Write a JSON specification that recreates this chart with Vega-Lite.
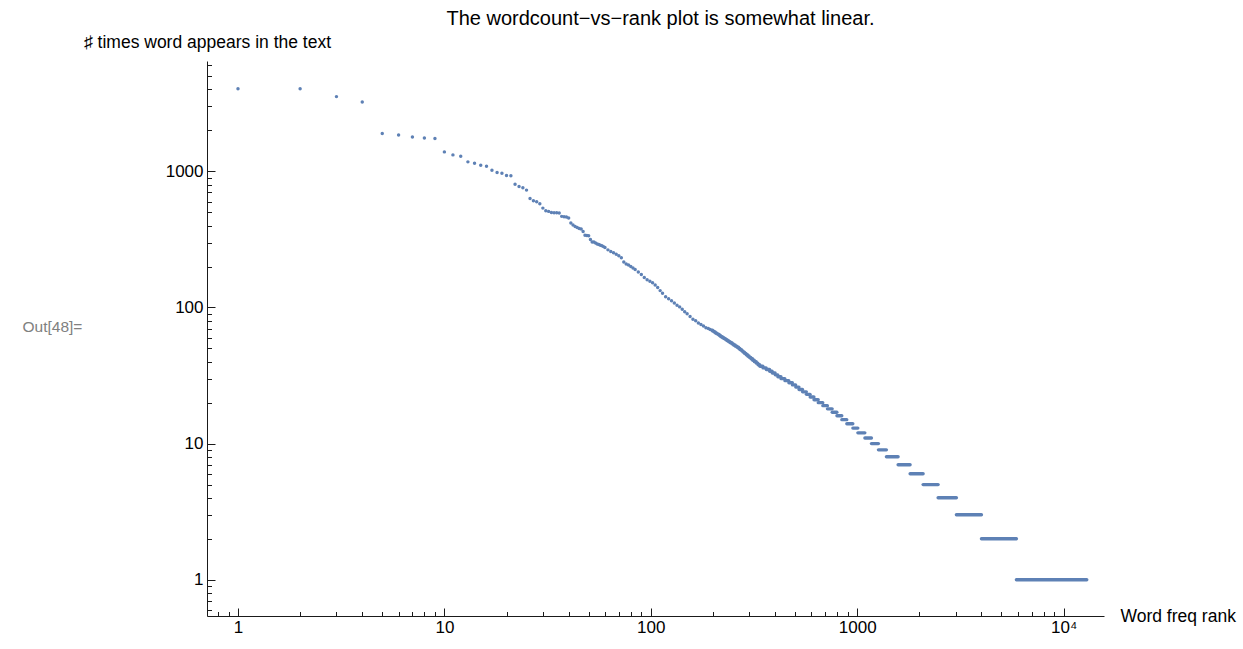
{
  "$schema": "https://vega.github.io/schema/vega-lite/v6.json",
  "width": 897,
  "height": 555,
  "autosize": "none",
  "padding": {"left": 207, "top": 61, "right": 139, "bottom": 33},
  "background": "white",
  "config": {"view": {"stroke": null}, "font": "Liberation Sans", "axis": {"grid": false}},
  "title": {"text": "The wordcount−vs−rank plot is somewhat linear.", "fontSize": 20, "font": "Liberation Sans", "fontWeight": "normal", "color": "#000000", "anchor": "middle", "dx": 5},
  "datasets": {
    "points": [
      {"rank": 1, "count": 4050}, {"rank": 2, "count": 4040}, {"rank": 3, "count": 3540}, {"rank": 4, "count": 3230},
      {"rank": 5, "count": 1895}, {"rank": 6, "count": 1850}, {"rank": 7, "count": 1790}, {"rank": 8, "count": 1760},
      {"rank": 9, "count": 1740}, {"rank": 10, "count": 1390}, {"rank": 11, "count": 1321}, {"rank": 12, "count": 1292},
      {"rank": 13, "count": 1174}, {"rank": 14, "count": 1148}, {"rank": 15, "count": 1110}, {"rank": 16, "count": 1091},
      {"rank": 17, "count": 1020}, {"rank": 18, "count": 980}, {"rank": 19, "count": 970}, {"rank": 20, "count": 931},
      {"rank": 21, "count": 927}, {"rank": 22, "count": 805}, {"rank": 23, "count": 774}, {"rank": 24, "count": 757},
      {"rank": 25, "count": 728}, {"rank": 26, "count": 632}, {"rank": 27, "count": 608}, {"rank": 28, "count": 598},
      {"rank": 29, "count": 578}, {"rank": 30, "count": 537}, {"rank": 31, "count": 513}, {"rank": 32, "count": 508},
      {"rank": 33, "count": 499}, {"rank": 34, "count": 496}, {"rank": 35, "count": 496}, {"rank": 36, "count": 494},
      {"rank": 37, "count": 467}, {"rank": 38, "count": 464}, {"rank": 39, "count": 462}, {"rank": 40, "count": 454},
      {"rank": 41, "count": 417}, {"rank": 42, "count": 403}, {"rank": 43, "count": 394}, {"rank": 44, "count": 387},
      {"rank": 45, "count": 381}, {"rank": 46, "count": 377}, {"rank": 47, "count": 362}, {"rank": 48, "count": 339},
      {"rank": 49, "count": 338}, {"rank": 50, "count": 336}, {"rank": 51, "count": 316}, {"rank": 52, "count": 303},
      {"rank": 53, "count": 303}, {"rank": 54, "count": 298}, {"rank": 55, "count": 293}, {"rank": 56, "count": 290},
      {"rank": 57, "count": 287}, {"rank": 58, "count": 284}, {"rank": 59, "count": 280}, {"rank": 60, "count": 276},
      {"rank": 62, "count": 265}, {"rank": 64, "count": 258}, {"rank": 66, "count": 252}, {"rank": 68, "count": 246},
      {"rank": 70, "count": 240}, {"rank": 72, "count": 232}, {"rank": 74, "count": 216}, {"rank": 76, "count": 209},
      {"rank": 78, "count": 205}, {"rank": 80, "count": 200}, {"rank": 82, "count": 195}, {"rank": 84, "count": 190},
      {"rank": 87, "count": 182}, {"rank": 90, "count": 175}, {"rank": 93, "count": 166}, {"rank": 96, "count": 160},
      {"rank": 99, "count": 156}, {"rank": 102, "count": 152}, {"rank": 105, "count": 146}, {"rank": 108, "count": 140},
      {"rank": 111, "count": 133}, {"rank": 114, "count": 127}, {"rank": 118, "count": 120}, {"rank": 122, "count": 116},
      {"rank": 126, "count": 112}, {"rank": 130, "count": 108}, {"rank": 134, "count": 104}, {"rank": 138, "count": 101},
      {"rank": 142, "count": 97}, {"rank": 146, "count": 93}, {"rank": 150, "count": 90}, {"rank": 155, "count": 86},
      {"rank": 160, "count": 82}, {"rank": 165, "count": 80}, {"rank": 170, "count": 77}, {"rank": 175, "count": 75},
      {"rank": 180, "count": 73}, {"rank": 185, "count": 71}, {"rank": 190, "count": 70}, {"rank": 194, "count": 69}
    ],
    "levels": [
      {"count": 1, "from": 5907, "to": 12950}, {"count": 2, "from": 4000, "to": 5906}, {"count": 3, "from": 3025, "to": 3999},
      {"count": 4, "from": 2467, "to": 3024}, {"count": 5, "from": 2087, "to": 2466}, {"count": 6, "from": 1805, "to": 2086},
      {"count": 7, "from": 1579, "to": 1804}, {"count": 8, "from": 1386, "to": 1578}, {"count": 9, "from": 1268, "to": 1385},
      {"count": 10, "from": 1173, "to": 1267}, {"count": 11, "from": 1090, "to": 1172}, {"count": 12, "from": 1008, "to": 1089},
      {"count": 13, "from": 953, "to": 1007}, {"count": 14, "from": 891, "to": 952}, {"count": 15, "from": 843, "to": 890},
      {"count": 16, "from": 798, "to": 842}, {"count": 17, "from": 757, "to": 797}, {"count": 18, "from": 718, "to": 756},
      {"count": 19, "from": 682, "to": 717}, {"count": 20, "from": 648, "to": 681}, {"count": 21, "from": 618, "to": 647},
      {"count": 22, "from": 592, "to": 617}, {"count": 23, "from": 568, "to": 591}, {"count": 24, "from": 544, "to": 567},
      {"count": 25, "from": 523, "to": 543}, {"count": 26, "from": 504, "to": 522}, {"count": 27, "from": 486, "to": 503},
      {"count": 28, "from": 467, "to": 485}, {"count": 29, "from": 447, "to": 466}, {"count": 30, "from": 428, "to": 446},
      {"count": 31, "from": 413, "to": 427}, {"count": 32, "from": 401, "to": 412}, {"count": 33, "from": 388, "to": 400},
      {"count": 34, "from": 377, "to": 387}, {"count": 35, "from": 363, "to": 376}, {"count": 36, "from": 350, "to": 362},
      {"count": 37, "from": 338, "to": 349}, {"count": 38, "from": 331, "to": 337}, {"count": 39, "from": 325, "to": 330},
      {"count": 40, "from": 318, "to": 324}, {"count": 41, "from": 312, "to": 317}, {"count": 42, "from": 306, "to": 311},
      {"count": 43, "from": 300, "to": 305}, {"count": 44, "from": 295, "to": 299}, {"count": 45, "from": 290, "to": 294},
      {"count": 46, "from": 285, "to": 289}, {"count": 47, "from": 280, "to": 284}, {"count": 48, "from": 276, "to": 279},
      {"count": 49, "from": 271, "to": 275}, {"count": 50, "from": 267, "to": 270}, {"count": 51, "from": 262, "to": 266},
      {"count": 52, "from": 257, "to": 261}, {"count": 53, "from": 252, "to": 256}, {"count": 54, "from": 248, "to": 251},
      {"count": 55, "from": 243, "to": 247}, {"count": 56, "from": 239, "to": 242}, {"count": 57, "from": 235, "to": 238},
      {"count": 58, "from": 231, "to": 234}, {"count": 59, "from": 227, "to": 230}, {"count": 60, "from": 223, "to": 226},
      {"count": 61, "from": 219, "to": 222}, {"count": 62, "from": 216, "to": 218}, {"count": 63, "from": 213, "to": 215},
      {"count": 64, "from": 209, "to": 212}, {"count": 65, "from": 206, "to": 208}, {"count": 66, "from": 203, "to": 205},
      {"count": 67, "from": 200, "to": 202}, {"count": 68, "from": 198, "to": 199}
    ]
  },
  "layer": [
    {
      "data": {"name": "points"},
      "mark": {"type": "point", "filled": true, "shape": "circle", "size": 12, "color": "#5E81B5", "opacity": 1},
      "encoding": {
        "x": {
          "field": "rank", "type": "quantitative",
          "scale": {"type": "log", "domain": [0.7077, 15696], "nice": false},
          "axis": {
            "orient": "bottom", "values": [1, 10, 100, 1000, 10000], "format": "d",
            "labelExpr": "datum.value == 10000 ? '10⁴' : datum.label",
            "tickSize": -8, "tickColor": "#1a1a1a", "tickWidth": 1, "domainColor": "#1a1a1a", "domainWidth": 1,
            "labelFontSize": 17, "labelColor": "#000000", "labelPadding": 11, "labelFont": "Liberation Sans",
            "title": "Word freq rank", "titleX": 913, "titleY": 0, "titleAlign": "left", "titleBaseline": "middle",
            "titleFontSize": 17.5, "titleFontWeight": "normal", "titleColor": "#000000", "titleFont": "Liberation Sans"
          }
        },
        "y": {
          "field": "count", "type": "quantitative",
          "scale": {"type": "log", "domain": [0.5415, 6466], "nice": false},
          "axis": {
            "orient": "left", "values": [1, 10, 100, 1000], "format": "d",
            "tickSize": -8, "tickColor": "#1a1a1a", "tickWidth": 1, "domainColor": "#1a1a1a", "domainWidth": 1,
            "labelFontSize": 17, "labelColor": "#000000", "labelPadding": 12, "labelFont": "Liberation Sans",
            "title": "♯ times word appears in the text", "titleAngle": 0, "titleX": 0, "titleY": -19,
            "titleAlign": "center", "titleBaseline": "middle",
            "titleFontSize": 17.5, "titleFontWeight": "normal", "titleColor": "#000000", "titleFont": "Liberation Sans"
          }
        }
      }
    },
    {
      "data": {"name": "levels"},
      "mark": {"type": "rule", "strokeWidth": 3.4, "strokeCap": "round", "color": "#5E81B5"},
      "encoding": {
        "x": {
          "field": "from", "type": "quantitative",
          "axis": {
            "orient": "bottom", "labels": false, "domain": false, "title": null,
            "values": [0.8, 0.9, 2, 3, 4, 5, 6, 7, 8, 9, 20, 30, 40, 50, 60, 70, 80, 90, 200, 300, 400, 500, 600, 700, 800, 900, 2000, 3000, 4000, 5000, 6000, 7000, 8000, 9000],
            "tickSize": -4.5, "tickColor": "#1a1a1a", "tickWidth": 1
          }
        },
        "x2": {"field": "to"},
        "y": {
          "field": "count", "type": "quantitative",
          "axis": {
            "orient": "left", "labels": false, "domain": false,
            "values": [0.6, 0.7, 0.8, 0.9, 2, 3, 4, 5, 6, 7, 8, 9, 20, 30, 40, 50, 60, 70, 80, 90, 200, 300, 400, 500, 600, 700, 800, 900, 2000, 3000, 4000, 5000, 6000],
            "tickSize": -4.5, "tickColor": "#1a1a1a", "tickWidth": 1,
            "title": "Out[48]=", "titleAngle": 0, "titleX": -185, "titleY": 265, "titleAlign": "left", "titleBaseline": "middle",
            "titleFontSize": 15.5, "titleFontWeight": "normal", "titleColor": "#808080", "titleFont": "Liberation Sans"
          }
        }
      }
    }
  ],
  "resolve": {"axis": {"x": "independent", "y": "independent"}}
}
